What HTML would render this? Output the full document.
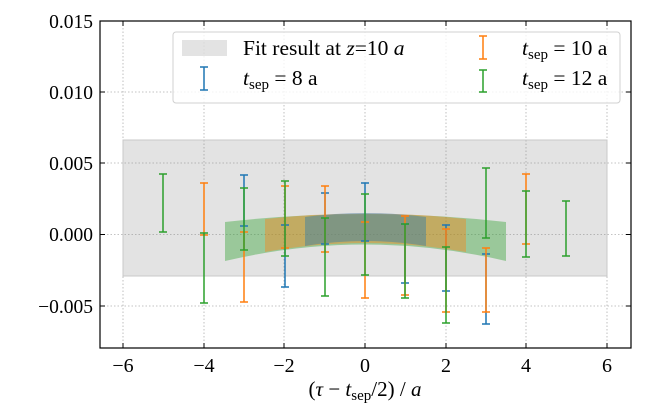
<!DOCTYPE html>
<html><head><meta charset="utf-8"><style>html,body{margin:0;padding:0;background:#fff}svg{display:block}</style></head>
<body>
<svg width="664" height="411" viewBox="0 0 664 411" xmlns="http://www.w3.org/2000/svg" font-family="Liberation Serif, serif">
<rect width="664" height="411" fill="#fff"/>
<g stroke="#b0b0b0" stroke-width="0.8" stroke-dasharray="1.5,2">
<line x1="123" y1="21" x2="123" y2="348"/><line x1="204" y1="21" x2="204" y2="348"/><line x1="284" y1="21" x2="284" y2="348"/><line x1="365" y1="21" x2="365" y2="348"/><line x1="446" y1="21" x2="446" y2="348"/><line x1="526" y1="21" x2="526" y2="348"/><line x1="607" y1="21" x2="607" y2="348"/>
<line x1="100" y1="92" x2="631" y2="92"/><line x1="100" y1="163" x2="631" y2="163"/><line x1="100" y1="234.5" x2="631" y2="234.5"/><line x1="100" y1="306" x2="631" y2="306"/>
</g>
<rect x="123" y="140" width="484" height="136" fill="#808080" fill-opacity="0.22" stroke="#c8c8c8" stroke-width="1"/>
<path d="M225,222 Q365,206 506,222 L506,261 Q365,228 225,261 Z" fill="#2ca02c" fill-opacity="0.4"/>
<path d="M265,219 Q365,208 466,219 L466,252 Q365,234 265,252 Z" fill="#ff7f0e" fill-opacity="0.4"/>
<path d="M305,217 Q365,209 426,217 L426,246 Q365,236 305,246 Z" fill="#1f77b4" fill-opacity="0.4"/>
<g stroke-width="1.5" fill="none">
<g stroke="#1f77b4">
<path d="M244,175V226M240,175h8M240,226h8"/>
<path d="M285,225V287M281,225h8M281,287h8"/>
<path d="M325,193V244M321,193h8M321,244h8"/>
<path d="M365,183V241M361,183h8M361,241h8"/>
<path d="M405,224V283M401,224h8M401,283h8"/>
<path d="M446,225V291M442,225h8M442,291h8"/>
<path d="M486,254V324M482,254h8M482,324h8"/>
</g>
<g stroke="#ff7f0e">
<path d="M204,183V235M200,183h8M200,235h8"/>
<path d="M244,232V302M240,232h8M240,302h8"/>
<path d="M285,186V248M281,186h8M281,248h8"/>
<path d="M325,186V252M321,186h8M321,252h8"/>
<path d="M365,222V298M361,222h8M361,298h8"/>
<path d="M405,216V295M401,216h8M401,295h8"/>
<path d="M446,229V312M442,229h8M442,312h8"/>
<path d="M486,248V312M482,248h8M482,312h8"/>
<path d="M526,174V244M522,174h8M522,244h8"/>
</g>
<g stroke="#2ca02c">
<path d="M163,174V232M159,174h8M159,232h8"/>
<path d="M204,233V303M200,233h8M200,303h8"/>
<path d="M244,188V250M240,188h8M240,250h8"/>
<path d="M285,181V256M281,181h8M281,256h8"/>
<path d="M325,218V296M321,218h8M321,296h8"/>
<path d="M365,194V275M361,194h8M361,275h8"/>
<path d="M405,224V298M401,224h8M401,298h8"/>
<path d="M446,247V323M442,247h8M442,323h8"/>
<path d="M486,168V238M482,168h8M482,238h8"/>
<path d="M526,191V257M522,191h8M522,257h8"/>
<path d="M566,201V256M562,201h8M562,256h8"/>
</g>
</g>
<rect x="100" y="21" width="531" height="327" fill="none" stroke="#000" stroke-width="1.2"/>
<g stroke="#000" stroke-width="1">
<path d="M123,348v-5M204,348v-5M284,348v-5M365,348v-5M446,348v-5M526,348v-5M607,348v-5"/>
<path d="M123,21v5M204,21v5M284,21v5M365,21v5M446,21v5M526,21v5M607,21v5"/>
<path d="M100,21h5M100,92h5M100,163h5M100,234.5h5M100,306h5"/>
<path d="M631,21h-5M631,92h-5M631,163h-5M631,234.5h-5M631,306h-5"/>
</g>
<g font-size="19.5" fill="#000">
<g text-anchor="end">
<text x="93" y="28">0.015</text><text x="93" y="99">0.010</text><text x="93" y="170">0.005</text><text x="93" y="241">0.000</text><text x="93" y="313">−0.005</text>
</g>
<g text-anchor="middle" font-size="20">
<text x="123" y="372">−6</text><text x="204" y="372">−4</text><text x="284" y="372">−2</text><text x="365" y="372">0</text><text x="446" y="372">2</text><text x="526" y="372">4</text><text x="607" y="372">6</text>
</g>
<text x="365" y="396" text-anchor="middle" font-size="21">(<tspan font-style="italic">τ</tspan> − <tspan font-style="italic">t</tspan><tspan font-size="15" dy="4">sep</tspan><tspan dy="-4">/2) / </tspan><tspan font-style="italic">a</tspan></text>
</g>
<rect x="173" y="32" width="447" height="71" rx="3" fill="#fff" fill-opacity="0.8" stroke="#d0d0d0" stroke-width="1"/>
<rect x="182" y="40" width="45" height="16" fill="#808080" fill-opacity="0.22"/>
<g stroke-width="1.5">
<path d="M204,67V90M200,67h8M200,90h8" stroke="#1f77b4"/>
<path d="M483,36V59M479,36h8M479,59h8" stroke="#ff7f0e"/>
<path d="M483,70V92M479,70h8M479,92h8" stroke="#2ca02c"/>
</g>
<g font-size="21.5" fill="#000">
<text x="243" y="55">Fit result at <tspan font-style="italic">z</tspan>=10 <tspan font-style="italic">a</tspan></text>
<text x="243" y="85"><tspan font-style="italic">t</tspan><tspan font-size="15" dy="4">sep</tspan><tspan dy="-4"> = 8 a</tspan></text>
<text x="522" y="55"><tspan font-style="italic">t</tspan><tspan font-size="15" dy="4">sep</tspan><tspan dy="-4"> = 10 a</tspan></text>
<text x="522" y="85"><tspan font-style="italic">t</tspan><tspan font-size="15" dy="4">sep</tspan><tspan dy="-4"> = 12 a</tspan></text>
</g>
</svg>
</body></html>
